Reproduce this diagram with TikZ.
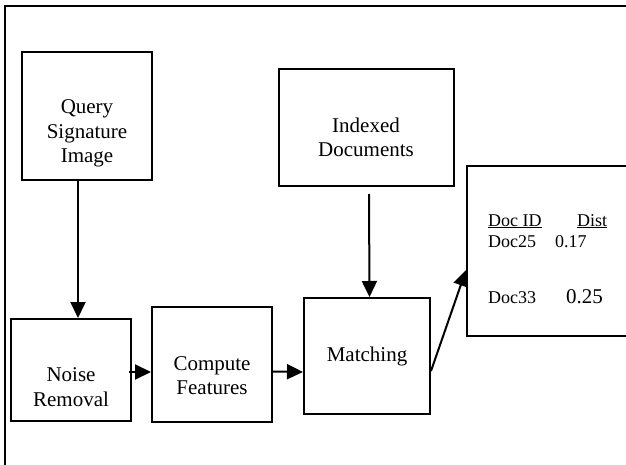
\documentclass[tikz,border=0pt]{standalone}
\usepackage{fontspec}
\setmainfont{Liberation Serif}
\usetikzlibrary{arrows.meta,calc}
\newcommand{\bigtxt}{\fontsize{21}{24.5}\selectfont}
\newcommand{\tabtxt}{\fontsize{18}{21}\selectfont}
\tikzset{
  stagebox/.style={draw, line width=2pt, inner sep=0pt, minimum width=#1},
  lbl/.style={inner sep=0pt, align=center, font=\bigtxt},
  cell/.style={inner sep=0pt, anchor=base west, font=\tabtxt},
  arr/.style={line width=2pt, -{Triangle[length=16pt,width=15pt]}},
}
\begin{document}
\begin{tikzpicture}[x=1pt,y=-1pt]
\useasboundingbox (0,0) rectangle (626,465);
\clip (0,0) rectangle (626,465);
% surrounding frame
\draw[line width=2pt] (5,480) |- (640,6);

% process boxes
\node[stagebox=130pt, minimum height=128pt] (query) at (87,116) {};
\node[stagebox=175pt, minimum height=117pt] (indexed) at (366.5,127.5) {};
\node[stagebox=120pt, minimum height=102pt] (noise) at (71,370) {};
\node[stagebox=120pt, minimum height=115pt] (compute) at (212,364.5) {};
\node[stagebox=126pt, minimum height=116pt] (matching) at (367,356) {};
\node[stagebox=173pt, minimum height=170pt] (results) at (553.5,251) {};

% box captions
\node[lbl] (queryt) at (87,133.6) {\strut Query\\\strut Signature\\\strut Image\strut};
\node[lbl] (indexedt) at (366,139.6) {\strut Indexed\\\strut Documents\strut};
\node[lbl] (noiset) at (71,389) {\strut Noise\\\strut Removal\strut};
\node[lbl] (computet) at (212,377.6) {\strut Compute\\\strut Features\strut};
\node[lbl] (matchingt) at (367,356.8) {\strut Matching\strut};

% result table
\node[cell] (hid) at (488,226) {\underline{Doc ID}};
\node[cell] (hdist) at (577,226) {\underline{Dist}};
\node[cell] (r1id) at (488,247) {Doc25};
\node[cell] (r1d) at (555,247) {0.17};
\node[cell] (r2id) at (488,303) {Doc33};
\node[cell, font=\fontsize{21}{24}\selectfont] (r2d) at (566,303) {0.25};

% connectors
\draw[arr] ([xshift=-9pt]query.south) -- ([xshift=7pt]noise.north);
\draw[arr] ([xshift=-3pt,yshift=-2pt]noise.east) -- ([yshift=-7.5pt]compute.west);
\draw[arr] ([yshift=-7pt]compute.east) -- ([yshift=-16pt]matching.west);
\draw[arr] ([xshift=2.5pt,yshift=-7pt]indexed.south) -- ([xshift=2.5pt]matching.north);
\draw[arr] ([yshift=-15pt]matching.east) -- ([yshift=-19pt]results.west);
\end{tikzpicture}
\end{document}
